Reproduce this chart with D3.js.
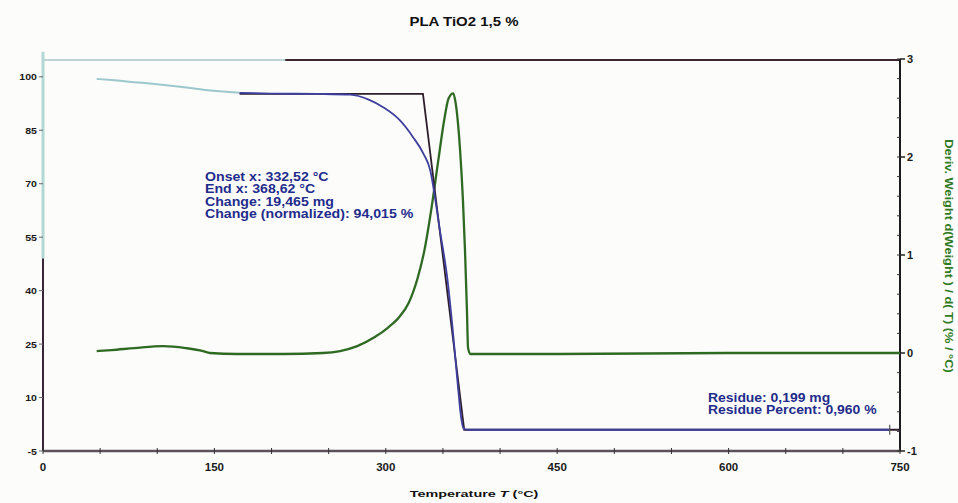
<!DOCTYPE html>
<meta charset="utf-8">
<html>
<head>
  <title>PLA TiO2 1,5 %</title>
  <style type="text/css">
    body{margin:0; background:#fff;}
    text{font-family:"Liberation Sans", Arial, sans-serif; font-weight:bold;}
  </style>
</head>
<body>
  <script src="https://cdn.jsdelivr.net/npm/d3@7"></script>
  <script>
    // weight curve (% vs °C)
    var weightT = [47, 60, 80, 100, 120, 140, 160, 172, 200, 240, 269, 285, 298, 312, 324, 333, 339, 341, 347, 354, 359, 363, 366, 368, 371, 741];
    var weight  = [99.4, 99.1, 98.5, 97.9, 97.2, 96.4, 95.8, 95.5, 95.3, 95.2, 95.0, 93.6, 91.4, 87.9, 83.0, 78.4, 73.6, 70.2, 57.6, 43.0, 27.6, 13.5, 4.2, 1.3, 0.96, 0.96];

    // derivative weight (%/°C)
    var derivT = [47, 60, 80, 105, 125, 140, 146, 170, 210, 245, 260, 275, 290, 302, 312, 320, 328, 334, 340, 346, 351, 355, 359, 361, 365, 367.5, 369.3, 371, 372, 374, 450, 600, 750];
    var deriv  = [0.02, 0.03, 0.05, 0.07, 0.05, 0.02, 0.0, -0.01, -0.01, 0.0, 0.02, 0.07, 0.16, 0.26, 0.37, 0.51, 0.77, 1.06, 1.48, 1.97, 2.37, 2.60, 2.65, 2.56, 2.07, 1.56, 1.05, 0.44, 0.05, -0.01, -0.01, 0.0, 0.0];

    // onset / end construction
    var stepT = [172, 332.52, 368.62, 750];
    var stepW = [95.2, 95.2, 0.96, 0.96];

    var xTicks = [0, 150, 300, 450, 600, 750];
    var yLeftTicks = [100, 85, 70, 55, 40, 25, 10, -5];
    var yRightTicks = [3, 2, 1, 0, -1];

    var onsetLines = ['Onset x: 332,52 °C', 'End x: 368,62 °C', 'Change: 19,465 mg', 'Change (normalized): 94,015 %'];
    var residueLines = ['Residue: 0,199 mg', 'Residue Percent: 0,960 %'];
    var fadeEnd = 172;

    var width = 958,
        height = 503;

    var svg = d3.select('body')
        .append('svg')
        .attr('width', width)
        .attr('height', height);

    svg.append('rect').attr('width', width).attr('height', height).attr('fill', '#fcfcfb');

    var x = d3.scaleLinear().domain([0, 750]).range([43, 900]);
    var yL = d3.scaleLinear().domain([-5, 105]).range([451, 59]);
    var yR = d3.scaleLinear().domain([-1, 3]).range([451, 59]);

    function label(str, px, py, size, sx, anchor, color){
      return svg.append('text')
        .attr('transform', 'translate(' + px + ',' + py + ') scale(' + sx + ',1)')
        .attr('font-size', size)
        .attr('text-anchor', anchor)
        .attr('fill', color)
        .text(str);
    }

    // frame: top line (faded left part), left axis, right axis, bottom axis
    svg.append('line').attr('x1', x(0)).attr('x2', x(212)).attr('y1', yL(104.7)).attr('y2', yL(104.7))
      .attr('stroke', '#a9c6c8').attr('stroke-width', 1.6);
    svg.append('line').attr('x1', x(212)).attr('x2', x(750)).attr('y1', yL(104.7)).attr('y2', yL(104.7))
      .attr('stroke', '#3a2630').attr('stroke-width', 2);
    svg.append('line').attr('x1', x(0)).attr('x2', x(0)).attr('y1', yL(107)).attr('y2', yL(49))
      .attr('stroke', '#b2d8d4').attr('stroke-width', 3);
    svg.append('line').attr('x1', x(0)).attr('x2', x(0)).attr('y1', yL(49)).attr('y2', yL(-5))
      .attr('stroke', '#3a2438').attr('stroke-width', 2);
    svg.append('line').attr('x1', x(750)).attr('x2', x(750)).attr('y1', yR(3)).attr('y2', yR(-1))
      .attr('stroke', '#1c1a1c').attr('stroke-width', 2);
    svg.append('line').attr('x1', x(0)).attr('x2', x(750)).attr('y1', yL(-5)).attr('y2', yL(-5))
      .attr('stroke', '#5a5258').attr('stroke-width', 2.5);

    // x ticks (minor every 50)
    svg.selectAll('.xt')
      .data(d3.range(0, 751, 50))
      .enter().append('line')
      .attr('x1', function(d){return x(d)}).attr('x2', function(d){return x(d)})
      .attr('y1', yL(-5) - 3).attr('y2', yL(-5) + 3)
      .attr('stroke', '#333').attr('stroke-width', 1);
    xTicks.forEach(function(t){
      label(String(t), x(t), 471, 10.5, 1.1, 'middle', '#1a1a1a');
    });

    // left ticks
    yLeftTicks.forEach(function(t){
      svg.append('line').attr('x1', x(0) - 4).attr('x2', x(0)).attr('y1', yL(t)).attr('y2', yL(t))
        .attr('stroke', '#666').attr('stroke-width', 1);
      label(String(t), x(0) - 6, yL(t) + 3.5, 9.8, 1.08, 'end', '#1a1a1a');
    });

    // right ticks (minor every 0.2)
    svg.selectAll('.yrt')
      .data(d3.range(-1, 3.01, 0.2))
      .enter().append('line')
      .attr('x1', x(750) - 3).attr('x2', x(750))
      .attr('y1', function(d){return yR(d)}).attr('y2', function(d){return yR(d)})
      .attr('stroke', '#333').attr('stroke-width', 1);
    yRightTicks.forEach(function(t){
      svg.append('line').attr('x1', x(750)).attr('x2', x(750) + 5).attr('y1', yR(t)).attr('y2', yR(t))
        .attr('stroke', '#222').attr('stroke-width', 1.5);
      label(String(t), x(750) + 7, yR(t) + 4, 10.5, 1.05, 'start', '#1a1a1a');
    });

    // derivative (green)
    var lineD = d3.line()
      .x(function(d){return x(d[0])})
      .y(function(d){return yR(d[1])})
      .curve(d3.curveMonotoneX);
    svg.append('path')
      .datum(derivT.map(function(t, i){return [t, deriv[i]]}))
      .attr('d', lineD)
      .attr('fill', 'none').attr('stroke', '#2f6a22').attr('stroke-width', 2.3);

    // onset / end construction (dark)
    var lineW = d3.line()
      .x(function(d){return x(d[0])})
      .y(function(d){return yL(d[1])});
    svg.append('path')
      .datum(stepT.map(function(t, i){return [t, stepW[i]]}))
      .attr('d', lineW)
      .attr('fill', 'none').attr('stroke', '#2e1e2c').attr('stroke-width', 1.8);

    // weight curve: faded early part, then blue
    var pts = weightT.map(function(t, i){return [t, weight[i]]});
    var lineWc = d3.line()
      .x(function(d){return x(d[0])})
      .y(function(d){return yL(d[1])})
      .curve(d3.curveMonotoneX);
    svg.append('path')
      .datum(pts.filter(function(d){return d[0] <= fadeEnd}))
      .attr('d', lineWc)
      .attr('fill', 'none').attr('stroke', '#9cc7cc').attr('stroke-width', 2);
    svg.append('path')
      .datum(pts.filter(function(d){return d[0] >= fadeEnd}))
      .attr('d', lineWc)
      .attr('fill', 'none').attr('stroke', '#3f3f9e').attr('stroke-width', 1.8);

    // residue marker
    svg.append('line')
      .attr('x1', x(weightT[weightT.length - 1])).attr('x2', x(weightT[weightT.length - 1]))
      .attr('y1', yL(weight[weight.length - 1]) - 5).attr('y2', yL(weight[weight.length - 1]) + 5)
      .attr('stroke', '#555').attr('stroke-width', 1.2);

    // annotations
    onsetLines.forEach(function(s, i){
      label(s, 205, 181 + i * 12.3, 12, 1.18, 'start', '#1f2c8c');
    });
    residueLines.forEach(function(s, i){
      label(s, 708, 402 + i * 12.3, 12, 1.16, 'start', '#1f2c8c');
    });

    // titles
    label('PLA TiO2 1,5 %', 464, 26, 12.5, 1.2, 'middle', '#111');

    var xt = label('', 474, 497, 9, 1.6, 'middle', '#111');
    xt.append('tspan').text('Temperature ');
    xt.append('tspan').attr('font-style', 'italic').text('T');
    xt.append('tspan').text(' (°C)');

    svg.append('text')
      .attr('transform', 'translate(945,256) rotate(90) scale(1.22,1)')
      .attr('font-size', 10.5)
      .attr('text-anchor', 'middle')
      .attr('fill', '#2f7a22')
      .text('Deriv. Weight d(Weight ) / d( T) (% / °C)');
  </script>
</body>
</html>
